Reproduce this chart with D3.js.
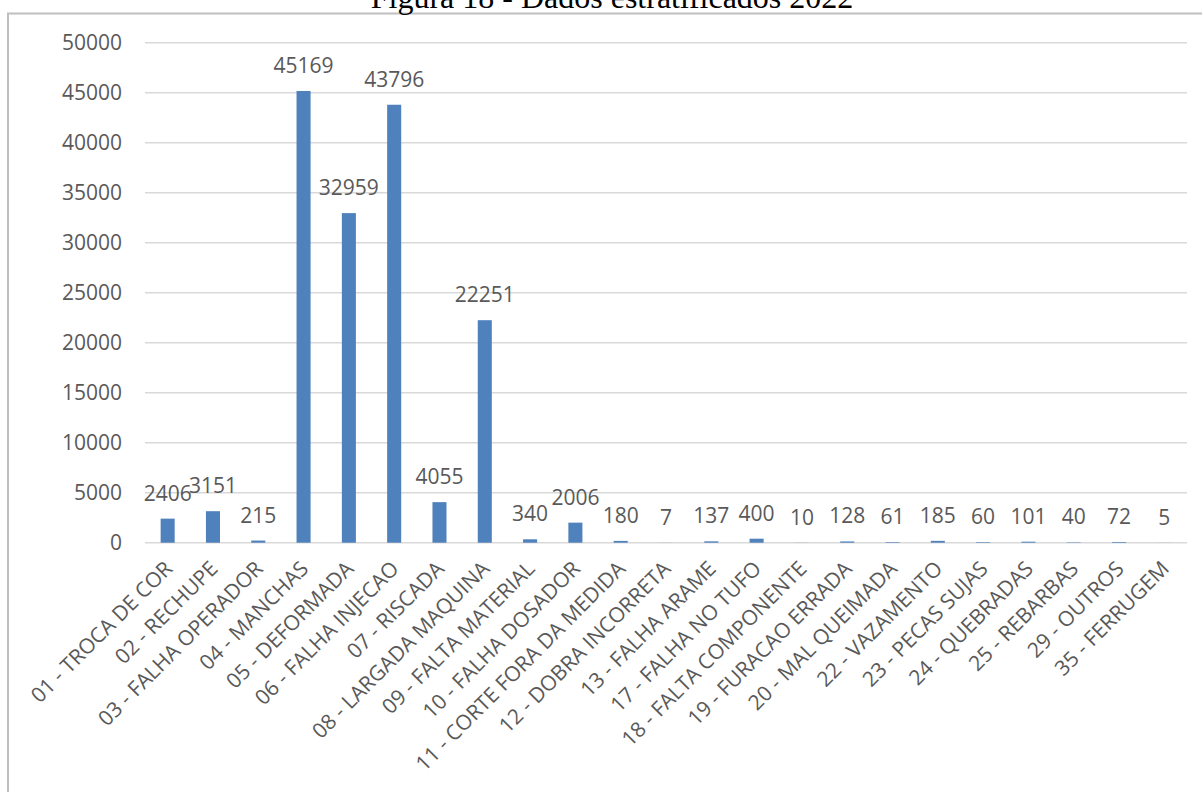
<html lang="pt">
<head>
<meta charset="utf-8">
<title>Figura 18 - Dados estratificados 2022</title>
<script src="https://d3js.org/d3.v7.min.js"></script>
<style>
  body { margin: 0; background: #fff; }
  text { font-family: "Open Sans", sans-serif; fill: #595959; }
</style>
</head>
<body>
<div id="chart"></div>
<script>
// categories and values
var categories = [
  "01 - TROCA DE COR", "02 - RECHUPE", "03 - FALHA OPERADOR", "04 - MANCHAS",
  "05 - DEFORMADA", "06 - FALHA INJECAO", "07 - RISCADA", "08 - LARGADA MAQUINA",
  "09 - FALTA MATERIAL", "10 - FALHA DOSADOR", "11 - CORTE FORA DA MEDIDA",
  "12 - DOBRA INCORRETA", "13 - FALHA ARAME", "17 - FALHA NO TUFO",
  "18 - FALTA COMPONENTE", "19 - FURACAO ERRADA", "20 - MAL QUEIMADA",
  "22 - VAZAMENTO", "23 - PECAS SUJAS", "24 - QUEBRADAS", "25 - REBARBAS",
  "29 - OUTROS", "35 - FERRUGEM"
];
var values = [2406, 3151, 215, 45169, 32959, 43796, 4055, 22251, 340, 2006, 180,
              7, 137, 400, 10, 128, 61, 185, 60, 101, 40, 72, 5];
var yTicks = [0, 5000, 10000, 15000, 20000, 25000, 30000, 35000, 40000, 45000, 50000];
var title = "Figura 18 - Dados estratificados 2022";

var W = 1202, H = 792;
var svg = d3.select("#chart").append("svg")
  .attr("width", W)
  .attr("height", H);

// chart frame (runs off the right and bottom edges)
svg.append("rect")
  .attr("x", 8).attr("y", 13.5)
  .attr("width", W + 20).attr("height", H + 20)
  .attr("fill", "none")
  .attr("stroke", "#bfbfbf")
  .attr("stroke-width", 2);

// title, partly cut by the top edge as in the source
svg.append("text")
  .attr("x", 612).attr("y", 8)
  .attr("text-anchor", "middle")
  .style("font-family", "'Liberation Serif', 'Times New Roman', serif")
  .style("font-size", "32px")
  .style("fill", "#000")
  .text(title);

var plotL = 145, plotR = 1187, plotT = 42.7, plotB = 542.7;

var x = d3.scaleBand()
  .domain(categories)
  .range([plotL, plotR])
  .paddingInner(0.69)
  .paddingOuter(0.345);

var y = d3.scaleLinear()
  .domain([0, 50000])
  .range([plotB, plotT]);

// gridlines
svg.append("g")
  .selectAll("line")
  .data(yTicks)
  .join("line")
    .attr("x1", plotL).attr("x2", plotR)
    .attr("y1", function(d) { return y(d); })
    .attr("y2", function(d) { return y(d); })
    .attr("stroke", "#d9d9d9")
    .attr("stroke-width", 1.5);

// y axis labels
var yAxis = svg.append("g")
  .attr("transform", "translate(" + (plotL - 23) + ",0)")
  .call(d3.axisLeft(y).tickValues(yTicks).tickSize(0).tickPadding(0).tickFormat(d3.format("d")));
yAxis.select(".domain").remove();
yAxis.selectAll("text")
  .style("font-size", "21px")
  .attr("fill", "#595959");

// bars
svg.append("g")
  .selectAll("rect")
  .data(values)
  .join("rect")
    .attr("x", function(d, i) { return x(categories[i]); })
    .attr("y", function(d) { return y(d); })
    .attr("width", x.bandwidth())
    .attr("height", function(d) { return plotB - y(d); })
    .attr("fill", "#4f81bd");

// data labels
svg.append("g")
  .selectAll("text")
  .data(values)
  .join("text")
    .attr("x", function(d, i) { return x(categories[i]) + x.bandwidth() / 2; })
    .attr("y", function(d) { return y(d) - 18; })
    .attr("text-anchor", "middle")
    .style("font-size", "21px")
    .text(function(d) { return d; });

// category labels, rotated
svg.append("g")
  .selectAll("text")
  .data(categories)
  .join("text")
    .attr("transform", function(d) {
      var cx = x(d) + x.bandwidth() / 2;
      return "translate(" + (cx + 6) + ",570) rotate(-45)";
    })
    .attr("text-anchor", "end")
    .style("font-size", "21px")
    .text(function(d) { return d; });
</script>
</body>
</html>
